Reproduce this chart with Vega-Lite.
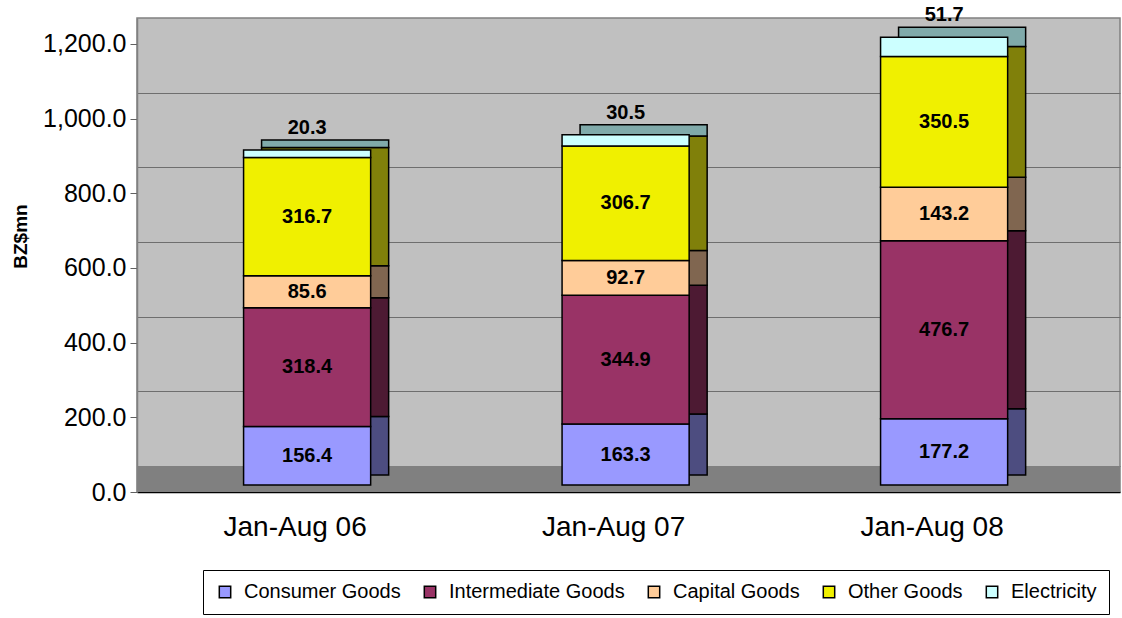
{
  "$schema": "https://vega.github.io/schema/vega-lite/v6.json",
  "width": 983,
  "height": 474,
  "autosize": {"type": "none"},
  "padding": {"left": 137, "top": 18, "right": 2, "bottom": 126},
  "background": "white",
  "config": {
    "font": "Liberation Sans",
    "view": {"fill": "#C0C0C0", "stroke": "#808080", "strokeWidth": 1.5}
  },
  "data": {
    "values": [
      {"Period": "Jan-Aug 06", "Category": "Consumer Goods", "Value": 156.4, "k": 1},
      {"Period": "Jan-Aug 06", "Category": "Intermediate Goods", "Value": 318.4, "k": 2},
      {"Period": "Jan-Aug 06", "Category": "Capital Goods", "Value": 85.6, "k": 3},
      {"Period": "Jan-Aug 06", "Category": "Other Goods", "Value": 316.7, "k": 4},
      {"Period": "Jan-Aug 06", "Category": "Electricity", "Value": 20.3, "k": 5},
      {"Period": "Jan-Aug 07", "Category": "Consumer Goods", "Value": 163.3, "k": 1},
      {"Period": "Jan-Aug 07", "Category": "Intermediate Goods", "Value": 344.9, "k": 2},
      {"Period": "Jan-Aug 07", "Category": "Capital Goods", "Value": 92.7, "k": 3},
      {"Period": "Jan-Aug 07", "Category": "Other Goods", "Value": 306.7, "k": 4},
      {"Period": "Jan-Aug 07", "Category": "Electricity", "Value": 30.5, "k": 5},
      {"Period": "Jan-Aug 08", "Category": "Consumer Goods", "Value": 177.2, "k": 1},
      {"Period": "Jan-Aug 08", "Category": "Intermediate Goods", "Value": 476.7, "k": 2},
      {"Period": "Jan-Aug 08", "Category": "Capital Goods", "Value": 143.2, "k": 3},
      {"Period": "Jan-Aug 08", "Category": "Other Goods", "Value": 350.5, "k": 4},
      {"Period": "Jan-Aug 08", "Category": "Electricity", "Value": 51.7, "k": 5}
    ]
  },
  "transform": [
    {"stack": "Value", "groupby": ["Period"], "sort": [{"field": "k", "order": "ascending"}], "as": ["v0", "v1"]},
    {"calculate": "(datum.v0 + datum.v1) / 2", "as": "mid"}
  ],
  "encoding": {
    "x": {
      "field": "Period", "type": "nominal", "title": null,
      "scale": {"paddingInner": 0.601, "paddingOuter": 0.3437, "align": 0.432},
      "axis": {"labelAngle": 0, "labelFontSize": 28, "labelColor": "black", "labelPadding": 21, "ticks": false, "domainColor": "black", "domainWidth": 1.5}
    }
  },
  "resolve": {"scale": {"y": "independent", "color": "independent"}},
  "layer": [
    {
      "transform": [{"filter": "datum.k == 1 && datum.Period == 'Jan-Aug 06'"}],
      "mark": {"type": "rect", "fill": "#808080", "stroke": null},
      "encoding": {
        "x": {"value": 0},
        "x2": {"value": 983},
        "y": {
          "datum": 0, "type": "quantitative",
          "scale": {"domain": [-69.6, 1199.8], "nice": false, "zero": false},
          "axis": {"orient": "left", "values": [0, 200, 400, 600, 800, 1000, 1200], "grid": true, "gridColor": "#6E6E6E", "gridWidth": 1.2, "labels": false, "ticks": false, "domain": false, "title": null}
        },
        "y2": {"datum": -69.6}
      }
    },
    {
      "mark": {"type": "bar", "stroke": "black", "strokeWidth": 1.5, "xOffset": 30, "yOffset": -17, "y2Offset": -17},
      "encoding": {
        "y": {"field": "v0", "type": "quantitative", "scale": {"domain": [0, 1269.4], "nice": false}, "axis": null},
        "y2": {"field": "v1"},
        "color": {
          "field": "Category", "type": "nominal",
          "scale": {
            "domain": ["Consumer Goods", "Intermediate Goods", "Capital Goods", "Other Goods", "Electricity"],
            "range": ["#4D4D80", "#4D1A33", "#806650", "#80800A", "#80AAAA"]
          },
          "legend": null
        }
      }
    },
    {
      "layer": [
        {
          "mark": {"type": "bar", "stroke": "black", "strokeWidth": 1.5, "xOffset": 12, "yOffset": -7, "y2Offset": -7},
          "encoding": {
            "y": {
              "field": "v0", "type": "quantitative", "title": "BZ$mn",
              "scale": {"domain": [0, 1269.4], "nice": false},
              "axis": {"orient": "left", "values": [0, 200, 400, 600, 800, 1000, 1200], "format": ",.1f", "grid": false, "labelFontSize": 25, "labelColor": "black", "labelPadding": 4, "tickColor": "#606060", "tickSize": 7, "domainColor": "#808080", "domainWidth": 1.5, "titleFontSize": 19, "titleFontWeight": "bold", "titleColor": "black", "titleX": -117, "titleY": 218, "titleBaseline": "middle", "titleAngle": -90}
            },
            "y2": {"field": "v1"},
            "color": {
              "field": "Category", "type": "nominal",
              "scale": {
                "domain": ["Consumer Goods", "Intermediate Goods", "Capital Goods", "Other Goods", "Electricity"],
                "range": ["#9999FF", "#993366", "#FFCC99", "#F0F000", "#CCFFFF"]
              },
              "legend": {
                "title": null, "orient": "none", "legendX": 66, "legendY": 552,
                "direction": "horizontal", "columns": 5, "symbolType": "square", "symbolSize": 130,
                "symbolStrokeColor": "black", "symbolStrokeWidth": 1.5, "symbolOpacity": 1,
                "labelFontSize": 20, "labelColor": "black", "labelOffset": 9, "columnPadding": 19,
                "strokeColor": "black", "fillColor": "white", "padding": 12, "labelLimit": 300
              }
            }
          }
        },
        {
          "transform": [{"filter": "datum.Category != 'Electricity'"}],
          "mark": {"type": "text", "fontSize": 20, "fontWeight": "bold", "color": "black", "baseline": "middle", "xOffset": 12, "yOffset": -7},
          "encoding": {
            "y": {"field": "mid", "type": "quantitative", "scale": {"domain": [0, 1269.4], "nice": false}},
            "text": {"field": "Value", "type": "quantitative", "format": ".1f"}
          }
        },
        {
          "transform": [{"filter": "datum.Category == 'Electricity'"}],
          "mark": {"type": "text", "fontSize": 20, "fontWeight": "bold", "color": "black", "baseline": "alphabetic", "xOffset": 12, "yOffset": -7, "dy": -16},
          "encoding": {
            "y": {"field": "v1", "type": "quantitative", "scale": {"domain": [0, 1269.4], "nice": false}},
            "text": {"field": "Value", "type": "quantitative", "format": ".1f"}
          }
        }
      ]
    }
  ]
}
